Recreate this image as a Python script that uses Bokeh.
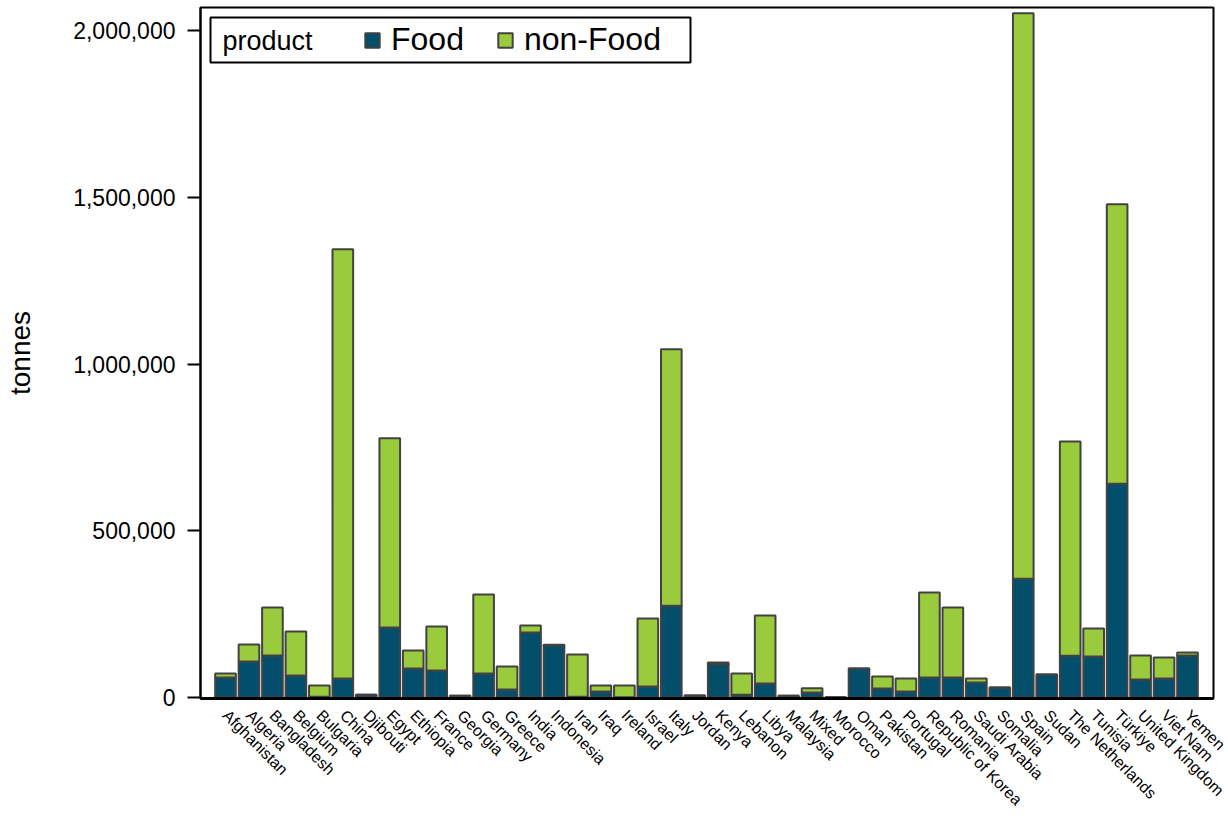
import math
from bokeh.plotting import figure
from bokeh.models import (ColumnDataSource, FixedTicker, NumeralTickFormatter, Range1d,
                          Legend, LegendItem, BoxAnnotation, Label)
from bokeh.embed import file_html
from bokeh.resources import INLINE

countries = ["Afghanistan", "Algeria", "Bangladesh", "Belgium", "Bulgaria", "China",
             "Djibouti", "Egypt", "Ethiopia", "France", "Georgia", "Germany", "Greece",
             "India", "Indonesia", "Iran", "Iraq", "Ireland", "Israel", "Italy", "Jordan",
             "Kenya", "Lebanon", "Libya", "Malaysia", "Mixed", "Morocco", "Oman",
             "Pakistan", "Portugal", "Republic of Korea", "Romania", "Saudi Arabia",
             "Somalia", "Spain", "Sudan", "The Netherlands", "Tunisia", "Türkiye",
             "United Kingdom", "Viet Nam", "Yemen"]

food = [60000, 108000, 126000, 66000, 2000, 57000,
        8000, 210000, 87000, 81000, 5000, 72000, 24000,
        195000, 157000, 2000, 18000, 1000, 33000, 275000, 6000,
        100000, 8000, 42000, 5000, 15000, 1000, 87000,
        27000, 18000, 60000, 60000, 45000,
        30000, 356000, 69000, 125000, 123000, 641000,
        54000, 57000, 126000]

non_food = [12000, 51000, 144000, 132000, 34000, 1287000,
            0, 567000, 54000, 132000, 0, 237000, 69000,
            21000, 1000, 127000, 18000, 35000, 204000, 769000, 0,
            5000, 64000, 204000, 0, 13000, 0, 0,
            36000, 39000, 255000, 210000, 12000,
            0, 1696000, 0, 643000, 84000, 838000,
            72000, 63000, 9000]

y_ticks = [0, 500000, 1000000, 1500000, 2000000]
series = ["food", "non_food"]
series_labels = ["Food", "non-Food"]
legend_title = "product"
colors = ["#034e6b", "#9acb3c"]

FONT = "Liberation Sans"

xs = list(range(len(countries)))
src = ColumnDataSource(dict(x=xs, food=food, non_food=non_food))

p = figure(width=1228, height=825, output_backend="svg", toolbar_location=None,
           x_range=Range1d(-1.066, 42.108), y_range=Range1d(-3000, 2069000),
           min_border_left=200, min_border_right=15, min_border_top=7,
           min_border_bottom=127, background_fill_color="white",
           border_fill_color="white")

rs = p.vbar_stack(series, x="x", width=0.88, source=src, fill_color=colors,
                  line_color="#424242", line_width=2)

p.xgrid.visible = False
p.ygrid.visible = False
p.outline_line_color = "black"
p.outline_line_width = 2

# x axis
p.xaxis.ticker = FixedTicker(ticks=xs)
p.xaxis.major_label_overrides = {i: c for i, c in enumerate(countries)}
p.xaxis.major_label_orientation = -math.pi / 4
p.xaxis.major_tick_line_color = None
p.xaxis.minor_tick_line_color = None
p.xaxis.axis_line_color = "black"
p.xaxis.axis_line_width = 3
p.xaxis.major_label_text_font = FONT
p.xaxis.major_label_text_font_size = "16px"
p.xaxis.major_label_text_color = "black"
p.xaxis.major_label_standoff = 8

# y axis
p.yaxis.ticker = FixedTicker(ticks=y_ticks)
p.yaxis.formatter = NumeralTickFormatter(format="0,0")
p.yaxis.major_tick_out = 13
p.yaxis.major_tick_in = 0
p.yaxis.major_tick_line_width = 2
p.yaxis.major_tick_line_color = "black"
p.yaxis.minor_tick_line_color = None
p.yaxis.axis_line_color = "black"
p.yaxis.axis_line_width = 2
p.yaxis.major_label_text_font = FONT
p.yaxis.major_label_text_font_size = "23px"
p.yaxis.major_label_text_color = "black"
p.yaxis.major_label_standoff = 12
p.yaxis.axis_label = "tonnes"
p.yaxis.axis_label_text_font = FONT
p.yaxis.axis_label_text_font_size = "28px"
p.yaxis.axis_label_text_font_style = "normal"
p.yaxis.axis_label_text_color = "black"
p.yaxis.axis_label_standoff = 34

# legend frame (screen units relative to the plot frame, y upward from frame bottom)
box = BoxAnnotation(left=10, right=490, top=681, bottom=636,
                    left_units="screen", right_units="screen",
                    top_units="screen", bottom_units="screen",
                    fill_color="white", fill_alpha=1,
                    line_color="black", line_width=2, line_alpha=1, level="annotation")
p.add_layout(box)

title_lbl = Label(x=22, y=658, x_units="screen", y_units="screen", text=legend_title,
                  text_font=FONT, text_font_size="27px", text_color="black",
                  text_baseline="middle", text_align="left", level="annotation")
p.add_layout(title_lbl)

legend = Legend(items=[LegendItem(label=series_labels[i], renderers=[rs[i]]) for i in range(2)],
                orientation="horizontal", location=(163, 640))
legend.margin = 0
legend.padding = 0
legend.spacing = 32
legend.border_line_color = None
legend.background_fill_alpha = 0
legend.label_text_font = FONT
legend.label_text_font_size = "32px"
legend.label_text_color = "black"
legend.label_standoff = 10
legend.glyph_width = 18
legend.glyph_height = 18
p.add_layout(legend)

open("out.html", "w").write(file_html(p, INLINE))
